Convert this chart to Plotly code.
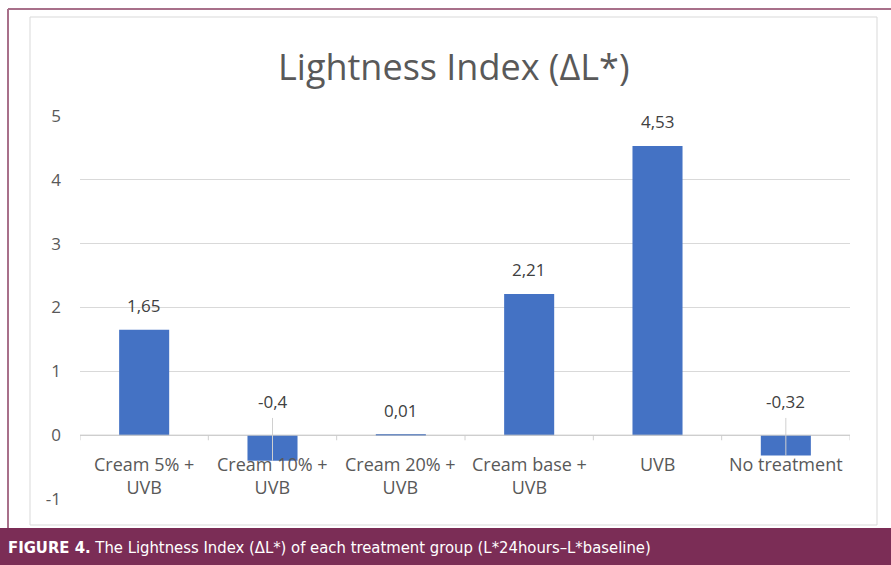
import plotly.graph_objects as go

categories = ["Cream 5% +<br>UVB", "Cream 10% +<br>UVB", "Cream 20% +<br>UVB",
              "Cream base +<br>UVB", "UVB", "No treatment"]
values = [1.65, -0.4, 0.01, 2.21, 4.53, -0.32]
y_ticks = [-1, 0, 1, 2, 3, 4, 5]
title_text = "Lightness Index (ΔL*)"
caption_bold = "FIGURE 4."
caption_text = " The Lightness Index (ΔL*) of each treatment group (L*24hours–L*baseline)"

W, H = 891, 565
L, R, T, B = 80, 41, 116, 66
PW, PH = W - L - R, H - T - B


def px(x):
    return (x - L) / PW


def py(y):
    return (H - B - y) / PH


idx = list(range(len(categories)))
fig = go.Figure()
fig.add_trace(go.Bar(x=idx, y=values, marker=dict(color="#4472C4", line=dict(width=0)),
                     width=0.39, hoverinfo="skip"))

font_main = "Open Sans, Lato, sans-serif"
ann = []
shapes = []
for i, v in zip(idx, values):
    label = f"{v:g}".replace(".", ",")
    if v >= 0:
        ann.append(dict(x=i, y=v, xref="x", yref="y", text=label, showarrow=False,
                        yanchor="bottom", yshift=11,
                        font=dict(size=17, color="#404040", family=font_main)))
    else:
        ann.append(dict(x=i, y=0, xref="x", yref="y", text=label, showarrow=False,
                        yanchor="bottom", yshift=20,
                        font=dict(size=17, color="#404040", family=font_main)))
        shapes.append(dict(type="line", xref="x", yref="y", x0=i, x1=i, y0=v, y1=0.27,
                           line=dict(color="#D0D0D0", width=1), layer="above"))
    ann.append(dict(x=i, y=0, xref="x", yref="y", text=categories[i], showarrow=False,
                    yanchor="top", yshift=-15,
                    font=dict(size=18, color="#595959", family=font_main)))

# category axis tick marks
for k in range(len(categories) + 1):
    shapes.append(dict(type="line", xref="x", yref="y", x0=k - 0.5, x1=k - 0.5,
                       y0=0, y1=-0.08, line=dict(color="#D0D0D0", width=1)))
shapes.append(dict(type="line", xref="paper", yref="y", x0=0, x1=1, y0=0, y1=0,
                   line=dict(color="#C8C8C8", width=1)))

# inner chart box
shapes.append(dict(type="rect", xref="paper", yref="paper", x0=px(30), x1=px(877),
                   y0=py(525), y1=py(17), line=dict(color="#D9D9D9", width=1), layer="below"))
# outer maroon frame
shapes.append(dict(type="line", xref="paper", yref="paper", x0=px(8), x1=px(8),
                   y0=py(528), y1=py(9), line=dict(color="#A8708A", width=2)))
shapes.append(dict(type="line", xref="paper", yref="paper", x0=px(8), x1=px(891),
                   y0=py(9), y1=py(9), line=dict(color="#A8708A", width=2)))
# footer band
shapes.append(dict(type="rect", xref="paper", yref="paper", x0=px(0), x1=px(891),
                   y0=py(565), y1=py(528), fillcolor="#7B2D56", line=dict(width=0)))

ann.append(dict(x=px(6), y=py(547), xref="paper", yref="paper", xanchor="left", yanchor="middle",
                text=f"<b>{caption_bold}</b>{caption_text}", showarrow=False,
                font=dict(size=16.5, color="white",
                          family="Liberation Sans Narrow, DejaVu Sans Condensed, sans-serif")))
ann.append(dict(x=px(454), y=py(66), xref="paper", yref="paper", xanchor="center", yanchor="middle",
                text=title_text, showarrow=False,
                font=dict(size=36, color="#595959", family=font_main)))

fig.update_layout(
    width=W, height=H, margin=dict(l=L, r=R, t=T, b=B),
    paper_bgcolor="white", plot_bgcolor="white",
    showlegend=False, annotations=ann, shapes=shapes,
    xaxis=dict(range=[-0.5, len(categories) - 0.5], showticklabels=False, showgrid=False,
               zeroline=False, showline=False, fixedrange=True),
    yaxis=dict(range=[-1, 5], tickvals=y_ticks, ticktext=[str(t) for t in y_ticks],
               showgrid=True, gridcolor="#D9D9D9", gridwidth=1, zeroline=False, showline=False,
               ticks="", ticklabelstandoff=18, fixedrange=True,
               tickfont=dict(size=17, color="#595959", family=font_main)),
)

fig.write_html("out.html", config={"displayModeBar": False},
               post_script="document.body.style.margin='0';")
